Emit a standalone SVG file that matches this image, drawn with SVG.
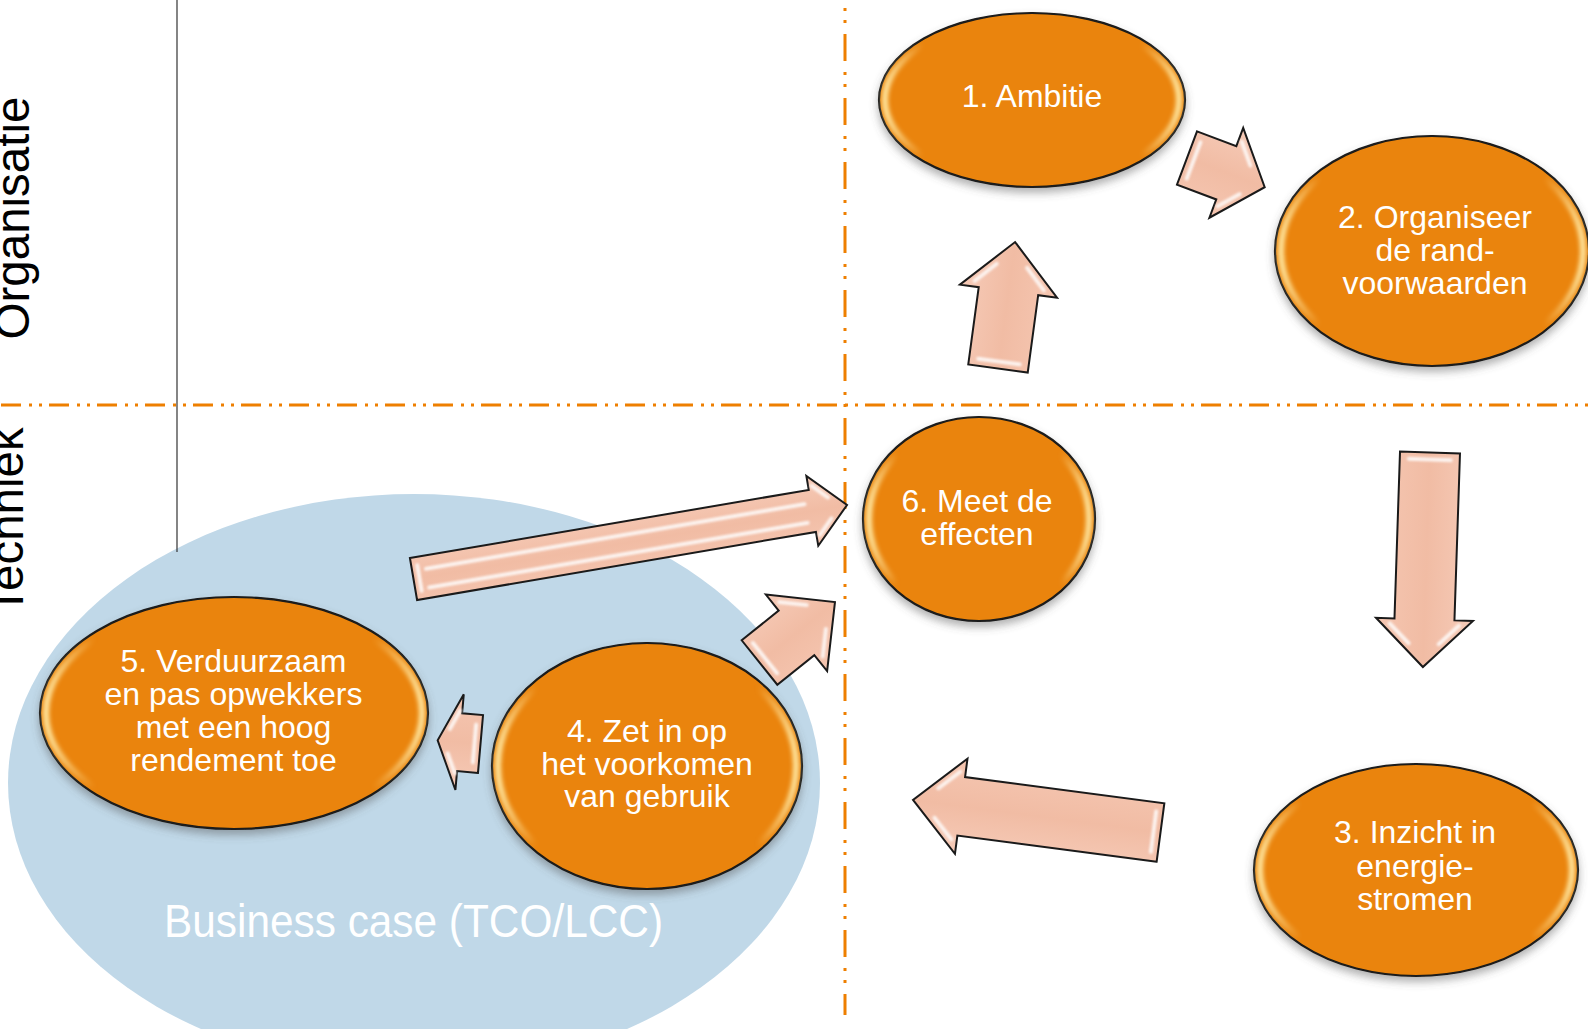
<svg xmlns="http://www.w3.org/2000/svg" width="1588" height="1029" viewBox="0 0 1588 1029">
  <defs>
    <style>
      .axis { font-family: "Liberation Sans", Arial, sans-serif; font-size: 47.5px; fill: #000; }
      .lbl { font-family: "Liberation Sans", Arial, sans-serif; font-size: 32px; fill: #fff; text-anchor: middle; }
      .divider { fill: none; stroke: #EE7F00; stroke-width: 3; }
      .node { fill: #EA840A; stroke: #1a1a1a; stroke-width: 2.2; filter: url(#shadow); }
      .rim { fill: none; stroke: url(#rimGlow); stroke-width: 6; filter: url(#soft); }
      .arrow { fill: url(#arrowFill); stroke: #1a1a1a; stroke-width: 2; stroke-linejoin: miter; }
      .gloss { fill: none; stroke: #fff; stroke-width: 4; stroke-linecap: round; opacity: 0.8; filter: url(#soft1); }
    </style>
    <linearGradient id="rimGlow" x1="0" y1="0" x2="1" y2="0">
      <stop offset="0" stop-color="#FFE7A0" stop-opacity="1"/>
      <stop offset="0.13" stop-color="#FFE7A0" stop-opacity="0"/>
      <stop offset="0.87" stop-color="#FFE7A0" stop-opacity="0"/>
      <stop offset="1" stop-color="#FFE7A0" stop-opacity="1"/>
    </linearGradient>
    <linearGradient id="arrowFill" x1="0" y1="0" x2="0" y2="1">
      <stop offset="0" stop-color="#F6CBB8"/>
      <stop offset="0.5" stop-color="#F1BCA4"/>
      <stop offset="1" stop-color="#F5C6B1"/>
    </linearGradient>
    <filter id="shadow" x="-10%" y="-10%" width="120%" height="130%">
      <feDropShadow dx="0" dy="5" stdDeviation="4" flood-color="#555" flood-opacity="0.45"/>
    </filter>
    <filter id="soft" x="-10%" y="-10%" width="120%" height="120%">
      <feGaussianBlur stdDeviation="2"/>
    </filter>
    <filter id="soft1" x="-20%" y="-20%" width="140%" height="140%">
      <feGaussianBlur stdDeviation="1"/>
    </filter>
  </defs>

  <rect width="1588" height="1029" fill="#fff"/>

  <!-- business case area -->
  <g id="business-case">
    <ellipse cx="414" cy="783" rx="406" ry="289" fill="#C0D8E8"/>
    <text x="164" y="937" font-family="Liberation Sans, Arial, sans-serif" font-size="46" fill="#fff" textLength="499" lengthAdjust="spacingAndGlyphs">Business case (TCO/LCC)</text>
  </g>

  <!-- grid lines -->
  <g id="grid">
    <line x1="177" y1="0" x2="177" y2="552" stroke="#333" stroke-width="1.2"/>
    <line class="divider" x1="0" y1="405" x2="1588" y2="405" stroke-dasharray="20 8 3 7 3 7" stroke-dashoffset="47"/>
    <line class="divider" x1="845" y1="0" x2="845" y2="1015" stroke-dasharray="27 11 3 9 3 11" stroke-dashoffset="30"/>
  </g>

  <!-- axis labels -->
  <g id="axis-labels">
    <text class="axis" transform="translate(29,218) rotate(-90)" text-anchor="middle">Organisatie</text>
    <text class="axis" transform="translate(23,521) rotate(-90)" text-anchor="middle">Techniek</text>
  </g>

  <!-- connectors: block arrows, drawn from the tail centre pointing along +x -->
  <g id="connectors">
    <g id="arrow-6-1" transform="translate(998,368.5) rotate(-82.3)">
      <path class="arrow" d="M0,-30 L78,-30 L78,-49 L127.6,0 L78,49 L78,30 L0,30 Z"/>
      <path class="gloss" d="M7,-21 L7,21 M83.7,-34.9 L103.6,-15.3 M83.7,34.9 L103.6,15.3"/>
    </g>
    <g id="arrow-1-2" transform="translate(1187,158) rotate(20.6)">
      <path class="arrow" d="M0,-28.5 L42,-28.5 L42,-48 L83,0 L42,48 L42,28.5 L0,28.5 Z"/>
      <path class="gloss" d="M7,-19.5 L7,19.5 M45.6,-34.5 L62,-15.3 M45.6,34.5 L62,15.3"/>
    </g>
    <g id="arrow-2-3" transform="translate(1430,452.5) rotate(91.9)">
      <path class="arrow" d="M0,-30 L167,-30 L167,-48.5 L214.6,0 L167,48.5 L167,30 L0,30 Z"/>
      <path class="gloss" d="M7,-21 L7,21 M172.2,-34.6 L191.3,-15.2 M172.2,34.6 L191.3,15.2"/>
    </g>
    <g id="arrow-3-4" transform="translate(1160.5,832.5) rotate(187.5)">
      <path class="arrow" d="M0,-29.5 L201,-29.5 L201,-48 L249.6,0 L201,48 L201,29.5 L0,29.5 Z"/>
      <path class="gloss" d="M7,-20.5 L7,20.5 M206.5,-34.1 L226,-14.9 M206.5,34.1 L226,14.9"/>
    </g>
    <g id="arrow-4-5" transform="translate(480.5,744) rotate(185)">
      <path class="arrow" d="M0,-29 L21,-29 L21,-48 L43,0 L21,48 L21,29 L0,29 Z"/>
      <path class="gloss" d="M6,-19 L6,19 M23.1,-31.5 L31.9,-12.3 M23.1,31.5 L31.9,12.3"/>
    </g>
    <g id="arrow-4-6" transform="translate(759.5,662.5) rotate(-38.7)">
      <path class="arrow" d="M0,-28.5 L47.4,-28.5 L47.4,-49 L96.7,0 L47.4,49 L47.4,28.5 L0,28.5 Z"/>
      <path class="gloss" d="M7,-19.5 L7,19.5 M53.1,-34.9 L72.8,-15.3 M53.1,34.9 L72.8,15.3"/>
    </g>
    <g id="arrow-5-6" transform="translate(413.5,579) rotate(-9.69)">
      <path class="arrow" d="M0,-21.3 L404.6,-21.3 L404.6,-35.4 L439.8,0 L404.6,35.4 L404.6,21.3 L0,21.3 Z"/>
      <path class="gloss" d="M6,-13 L6,13 M14,-8 L398,-8 M14,11 L398,11 M408.1,-24.8 L422.2,-10.7 M408.1,24.8 L422.2,10.7"/>
    </g>
  </g>

  <!-- steps -->
  <g id="node-1">
    <ellipse class="node" cx="1032" cy="100" rx="153" ry="87"/>
    <ellipse class="rim" cx="1032" cy="100" rx="147" ry="82"/>
    <text class="lbl" x="1032" y="107">1. Ambitie</text>
  </g>
  <g id="node-2">
    <ellipse class="node" cx="1432" cy="251" rx="157" ry="115"/>
    <ellipse class="rim" cx="1432" cy="251" rx="151" ry="109"/>
    <text class="lbl" x="1435" y="228">2. Organiseer</text>
    <text class="lbl" x="1435" y="261">de rand-</text>
    <text class="lbl" x="1435" y="294">voorwaarden</text>
  </g>
  <g id="node-3">
    <ellipse class="node" cx="1416" cy="870" rx="162" ry="106"/>
    <ellipse class="rim" cx="1416" cy="870" rx="156" ry="100"/>
    <text class="lbl" x="1415" y="843">3. Inzicht in</text>
    <text class="lbl" x="1415" y="877">energie-</text>
    <text class="lbl" x="1415" y="910">stromen</text>
  </g>
  <g id="node-4">
    <ellipse class="node" cx="647" cy="766" rx="155" ry="123"/>
    <ellipse class="rim" cx="647" cy="766" rx="149" ry="117"/>
    <text class="lbl" x="647" y="742">4. Zet in op</text>
    <text class="lbl" x="647" y="775">het voorkomen</text>
    <text class="lbl" x="647" y="807">van gebruik</text>
  </g>
  <g id="node-5">
    <ellipse class="node" cx="234" cy="713" rx="194" ry="116"/>
    <ellipse class="rim" cx="234" cy="713" rx="188" ry="110"/>
    <text class="lbl" x="233.5" y="672">5. Verduurzaam</text>
    <text class="lbl" x="233.5" y="705">en pas opwekkers</text>
    <text class="lbl" x="233.5" y="738">met een hoog</text>
    <text class="lbl" x="233.5" y="771">rendement toe</text>
  </g>
  <g id="node-6">
    <ellipse class="node" cx="979" cy="519" rx="116" ry="102"/>
    <ellipse class="rim" cx="979" cy="519" rx="110" ry="96"/>
    <text class="lbl" x="977" y="512">6. Meet de</text>
    <text class="lbl" x="977" y="545">effecten</text>
  </g>
</svg>
